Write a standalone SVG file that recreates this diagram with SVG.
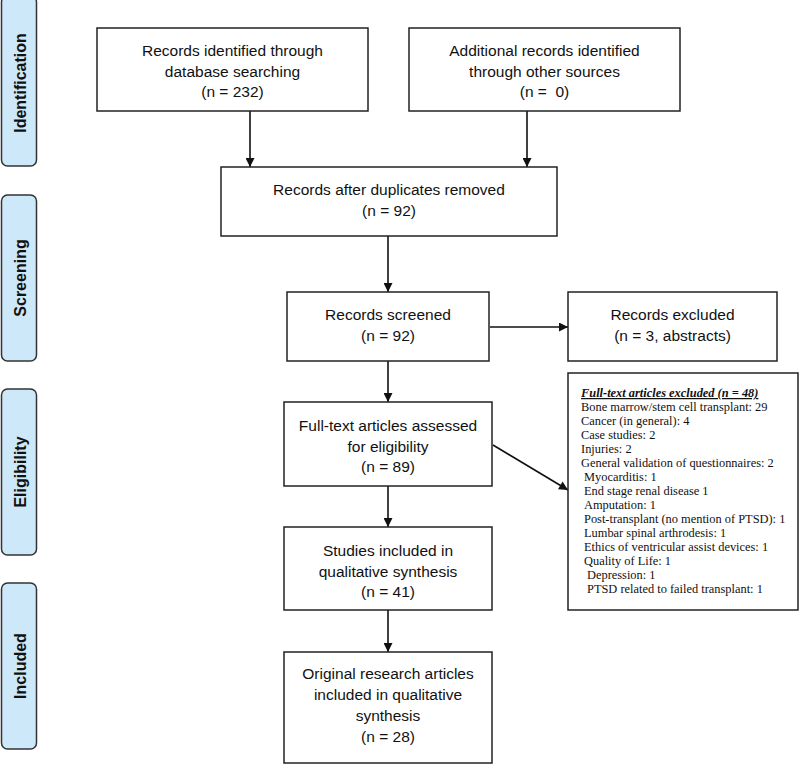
<svg xmlns="http://www.w3.org/2000/svg" width="800" height="764" viewBox="0 0 800 764">
<style>
.bg{fill:#ffffff}
.box{fill:#ffffff;stroke:#222;stroke-width:1.5}
.phase{fill:#cde8f8;stroke:#333;stroke-width:1.5}
.t{font-family:"Liberation Sans",Arial,sans-serif;font-size:15.5px;fill:#111;text-anchor:middle}
.ph{font-family:"Liberation Sans",Arial,sans-serif;font-size:16px;font-weight:bold;fill:#111;text-anchor:middle;dominant-baseline:central}
.ex{font-family:"Liberation Serif","Times New Roman",serif;font-size:12.4px;fill:#111}
.exh{font-weight:bold;font-style:italic;text-decoration:underline}
.con{stroke:#111;stroke-width:1.6;fill:none;marker-end:url(#ah)}
</style>
<defs>
<marker id="ah" viewBox="0 0 10 10" refX="10" refY="5" markerWidth="10" markerHeight="9" markerUnits="userSpaceOnUse" orient="auto">
<path d="M0,0 L10,5 L0,10 z" fill="#111"/>
</marker>
</defs>
<rect class="bg" x="0" y="0" width="800" height="764"/>

<g id="phase-identification"><rect class="phase" x="1.5" y="-4" width="35" height="170" rx="6"/><text class="ph" transform="translate(20,83) rotate(-90)">Identification</text></g>
<g id="phase-screening"><rect class="phase" x="1.5" y="195" width="35" height="166" rx="6"/><text class="ph" transform="translate(20,278) rotate(-90)">Screening</text></g>
<g id="phase-eligibility"><rect class="phase" x="1.5" y="389" width="35" height="166" rx="6"/><text class="ph" transform="translate(20,472) rotate(-90)">Eligibility</text></g>
<g id="phase-included"><rect class="phase" x="1.5" y="583" width="35" height="166" rx="6"/><text class="ph" transform="translate(20,666) rotate(-90)">Included</text></g>

<g id="connectors">
<line class="con" x1="250" y1="111" x2="250" y2="167"/>
<line class="con" x1="527" y1="111" x2="527" y2="167"/>
<line class="con" x1="388" y1="236" x2="388" y2="292"/>
<line class="con" x1="490" y1="327" x2="568" y2="327"/>
<line class="con" x1="388" y1="361" x2="388" y2="402"/>
<line class="con" x1="493" y1="445" x2="568" y2="490"/>
<line class="con" x1="388" y1="486" x2="388" y2="527"/>
<line class="con" x1="388" y1="610" x2="388" y2="652"/>
</g>

<g id="db-records"><rect class="box" x="97" y="28" width="271" height="83"/>
<text class="t" x="232.5" y="56">Records identified through</text>
<text class="t" x="232.5" y="77">database searching</text>
<text class="t" x="232.5" y="97">(n = 232)</text></g>

<g id="other-records"><rect class="box" x="409" y="28" width="271" height="83"/>
<text class="t" x="544.5" y="56">Additional records identified</text>
<text class="t" x="544.5" y="77">through other sources</text>
<text class="t" x="544.5" y="97" xml:space="preserve">(n =  0)</text></g>

<g id="after-duplicates"><rect class="box" x="221" y="167" width="336" height="69"/>
<text class="t" x="389" y="195">Records after duplicates removed</text>
<text class="t" x="389" y="216">(n = 92)</text></g>

<g id="screened"><rect class="box" x="287" y="292" width="202" height="69"/>
<text class="t" x="388" y="320">Records screened</text>
<text class="t" x="388" y="341">(n = 92)</text></g>

<g id="records-excluded"><rect class="box" x="568" y="292" width="209" height="69"/>
<text class="t" x="672.5" y="320">Records excluded</text>
<text class="t" x="672.5" y="341">(n = 3, abstracts)</text></g>

<g id="fulltext-assessed"><rect class="box" x="284" y="402" width="208" height="84"/>
<text class="t" x="388" y="431">Full-text articles assessed</text>
<text class="t" x="388" y="452">for eligibility</text>
<text class="t" x="388" y="472">(n = 89)</text></g>

<g id="fulltext-excluded"><rect class="box" x="568" y="373" width="230" height="237"/>
<text class="ex exh" x="581" y="397">Full-text articles excluded (n = 48)</text>
<text class="ex" x="581" y="411">Bone marrow/stem cell transplant: 29</text>
<text class="ex" x="581" y="425">Cancer (in general): 4</text>
<text class="ex" x="581" y="439">Case studies: 2</text>
<text class="ex" x="581" y="453">Injuries: 2</text>
<text class="ex" x="581" y="467">General validation of questionnaires: 2</text>
<text class="ex" x="584" y="481">Myocarditis: 1</text>
<text class="ex" x="584" y="495">End stage renal disease 1</text>
<text class="ex" x="584" y="509">Amputation: 1</text>
<text class="ex" x="584" y="523">Post-transplant (no mention of PTSD): 1</text>
<text class="ex" x="584" y="537">Lumbar spinal arthrodesis: 1</text>
<text class="ex" x="584" y="551">Ethics of ventricular assist devices: 1</text>
<text class="ex" x="584" y="565">Quality of Life: 1</text>
<text class="ex" x="587" y="579">Depression: 1</text>
<text class="ex" x="587" y="593">PTSD related to failed transplant: 1</text></g>

<g id="studies-included"><rect class="box" x="284" y="527" width="208" height="83"/>
<text class="t" x="388" y="556">Studies included in</text>
<text class="t" x="388" y="577">qualitative synthesis</text>
<text class="t" x="388" y="597">(n = 41)</text></g>

<g id="original-research"><rect class="box" x="284" y="652" width="208" height="111"/>
<text class="t" x="388" y="679">Original research articles</text>
<text class="t" x="388" y="700">included in qualitative</text>
<text class="t" x="388" y="721">synthesis</text>
<text class="t" x="388" y="742">(n = 28)</text></g>
</svg>
